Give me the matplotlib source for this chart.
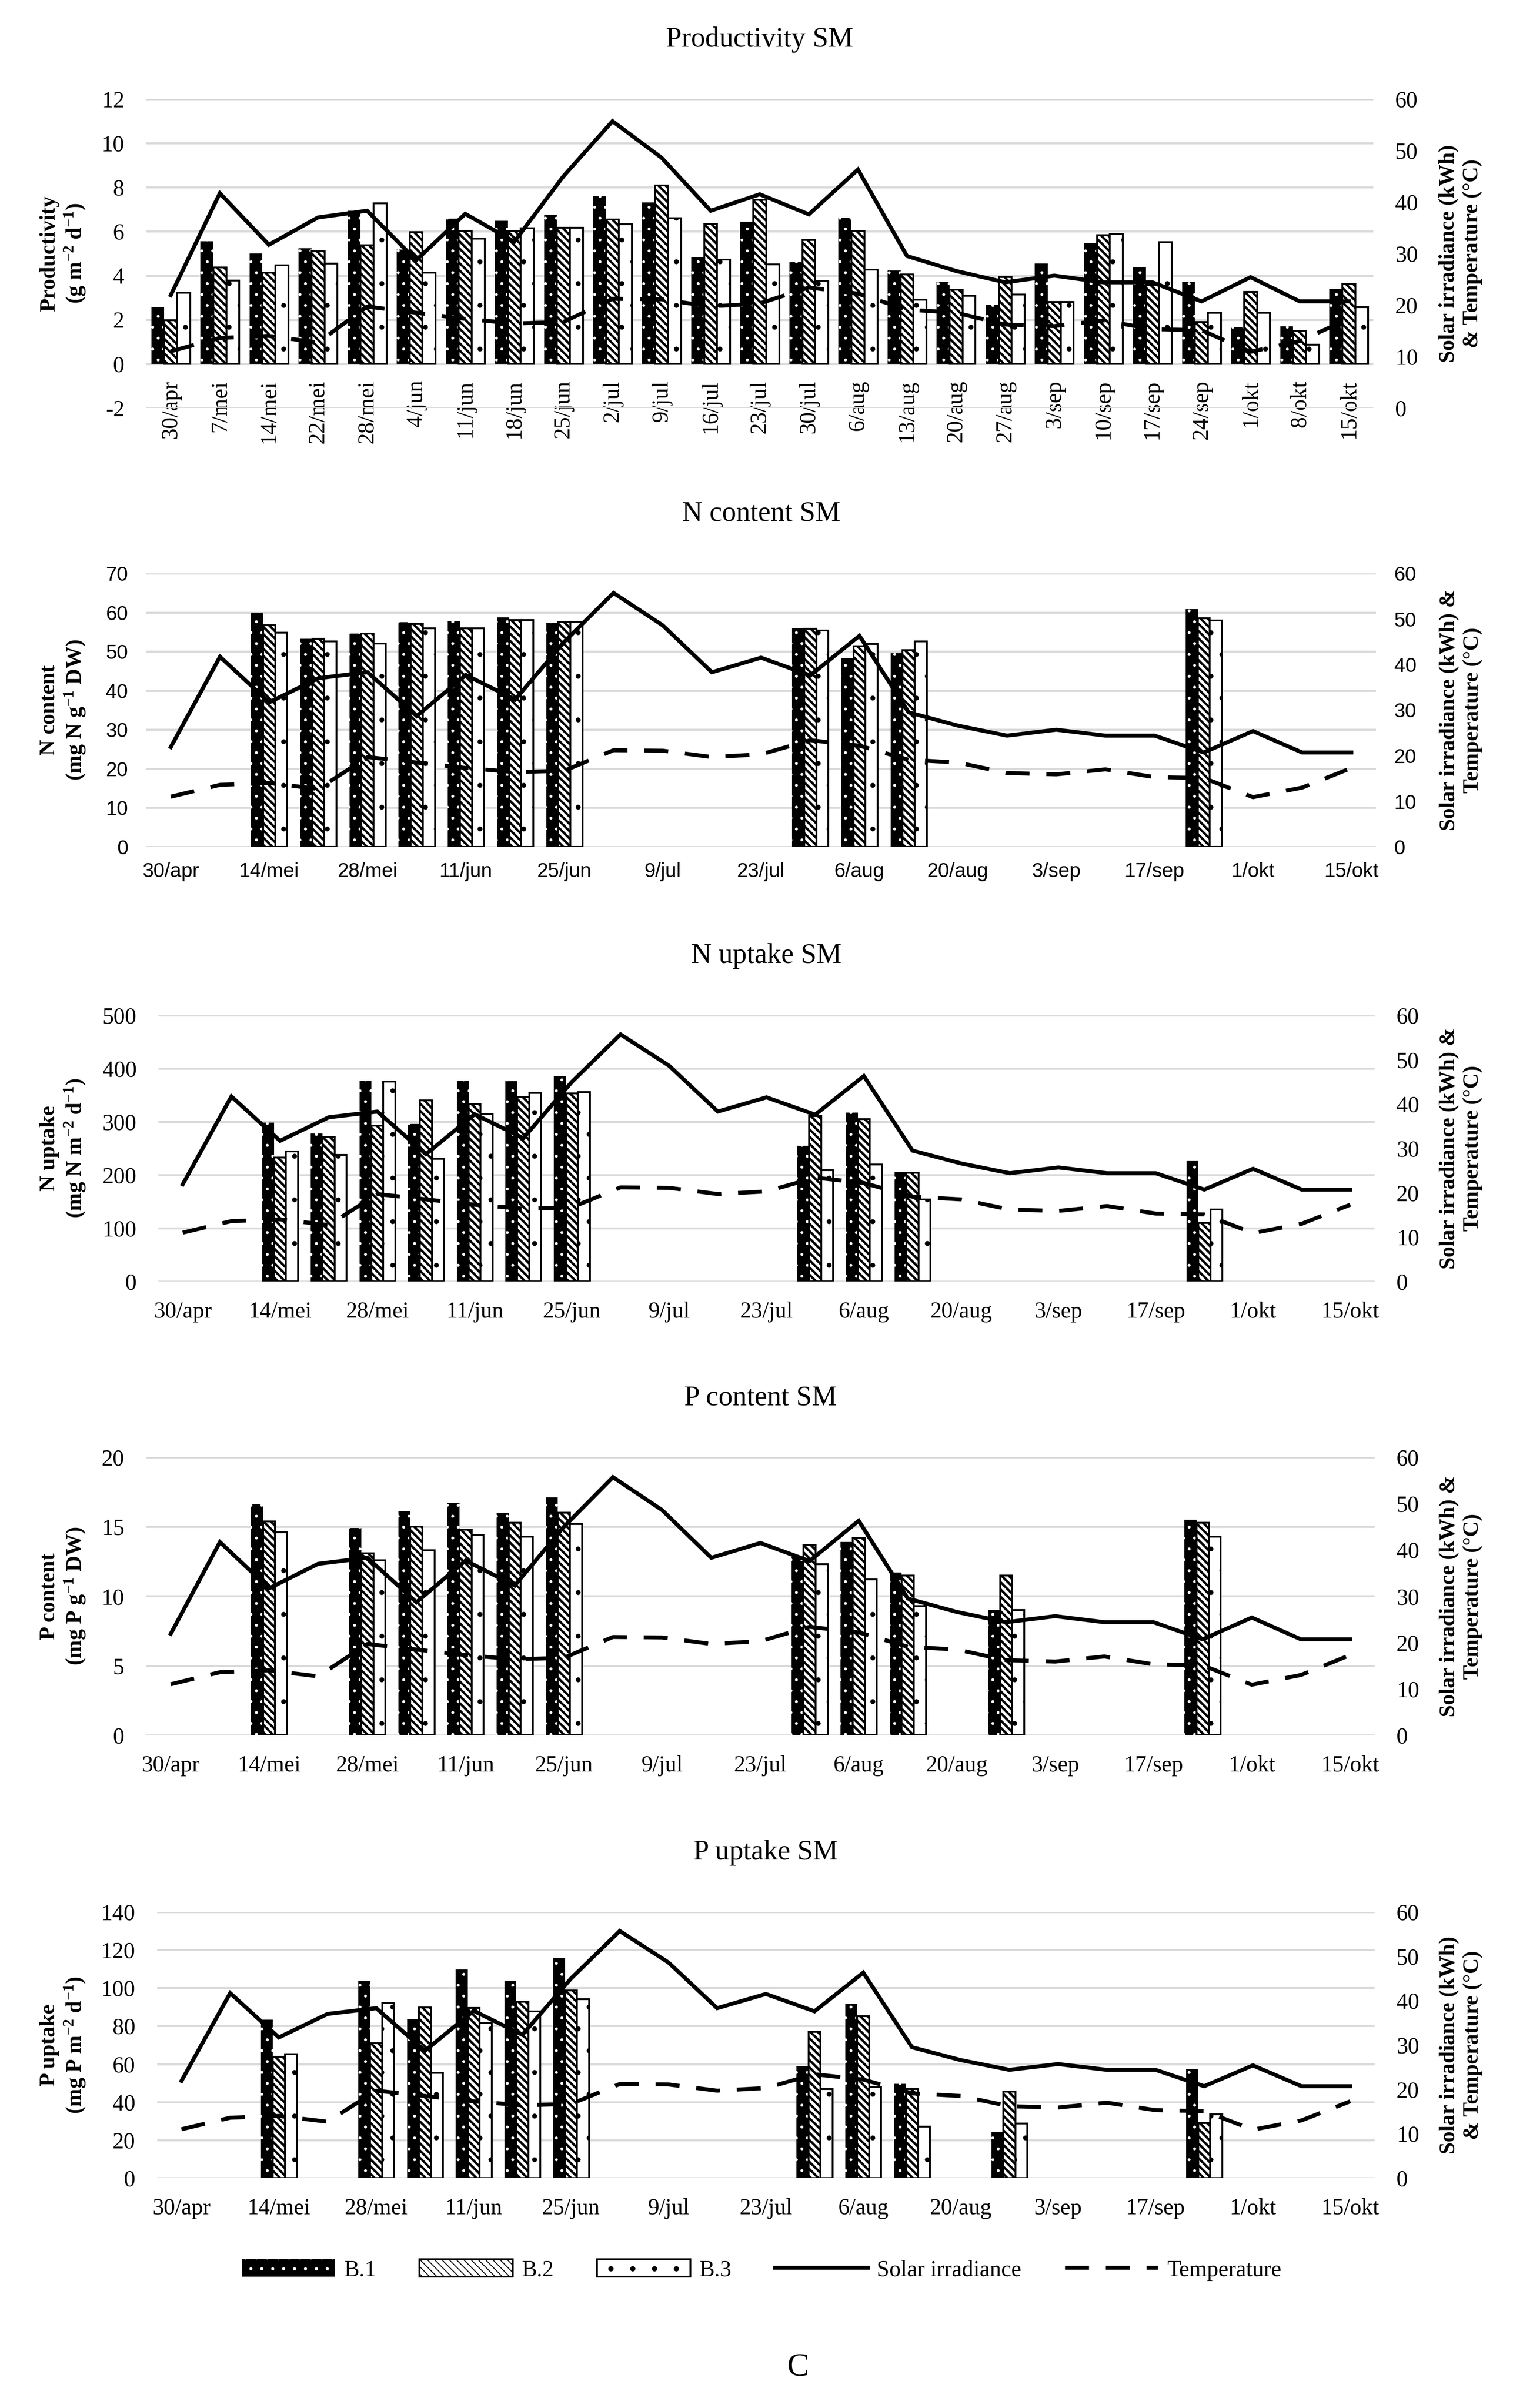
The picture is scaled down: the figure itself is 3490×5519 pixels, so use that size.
import numpy as np
import matplotlib.pyplot as plt
from matplotlib.patches import Patch
from matplotlib.lines import Line2D

# --- DATA ---
# weekly sampling dates, days after 30/apr
week_days = [0, 7, 14, 21, 28, 35, 42, 49, 56, 63, 70, 77, 84, 91, 98, 105,
             112, 119, 126, 133, 140, 147, 154, 161, 168]
week_labels = ['30/apr', '7/mei', '14/mei', '22/mei', '28/mei', '4/jun', '11/jun',
               '18/jun', '25/jun', '2/jul', '9/jul', '16/jul', '23/jul', '30/jul',
               '6/aug', '13/aug', '20/aug', '27/aug', '3/sep', '10/sep', '17/sep',
               '24/sep', '1/okt', '8/okt', '15/okt']
solar = [21.9, 41.7, 31.7, 37.0, 38.3, 28.7, 37.7, 32.3, 45.0, 55.7, 48.6, 38.3, 41.5,
         37.6, 46.3, 29.5, 26.6, 24.4, 25.7, 24.4, 24.4, 20.7, 25.4, 20.7, 20.7]
temperature = [11.0, 13.6, 14.0, 12.7, 19.7, 18.5, 17.3, 16.4, 16.7, 21.2, 21.1, 19.7,
               20.3, 23.4, 22.2, 19.1, 18.5, 16.2, 15.9, 17.0, 15.3, 15.1, 10.9, 13.0, 17.3]

# Productivity (g m-2 d-1), every week
prod_b1 = [2.56, 5.56, 5.0, 5.24, 6.94, 5.17, 6.58, 6.49, 6.76, 7.6, 7.31, 4.82, 6.44,
           4.6, 6.63, 4.22, 3.71, 2.67, 4.54, 5.47, 4.36, 3.71, 1.65, 1.69, 3.39]
prod_b2 = [1.97, 4.36, 4.13, 5.1, 5.38, 5.97, 6.03, 6.0, 6.17, 6.54, 8.08, 6.35, 7.43,
           5.61, 6.0, 4.06, 3.36, 3.94, 2.8, 5.83, 3.57, 1.9, 3.26, 1.49, 3.61]
prod_b3 = [3.22, 3.78, 4.46, 4.54, 7.28, 4.13, 5.68, 6.14, 6.17, 6.32, 6.6, 4.72, 4.51,
           3.76, 4.26, 2.9, 3.08, 3.15, 2.8, 5.89, 5.51, 2.32, 2.32, 0.86, 2.56]

# N content (mg N g-1 DW)
nc_days = [14, 21, 28, 35, 42, 49, 56, 91, 98, 105, 147]
nc_b1 = [59.9, 53.3, 54.6, 57.5, 57.7, 58.7, 57.3, 55.9, 48.3, 49.6, 60.9]
nc_b2 = [56.7, 53.3, 54.6, 57.1, 55.9, 58.0, 57.5, 55.8, 51.3, 50.4, 58.5]
nc_b3 = [54.8, 52.6, 52.0, 55.9, 55.9, 58.1, 57.6, 55.4, 51.9, 52.6, 57.9]

# N uptake (mg N m-2 d-1)
nu_days = [14, 21, 28, 35, 42, 49, 56, 91, 98, 105, 147]
nu_b1 = [298, 278, 377, 296, 377, 376, 386, 255, 317, 206, 226]
nu_b2 = [233, 271, 293, 340, 334, 347, 353, 311, 305, 204, 110]
nu_b3 = [244, 238, 375, 230, 315, 354, 356, 209, 220, 154, 135]

# P content (mg P g-1 DW)
pc_days = [14, 28, 35, 42, 49, 56, 91, 98, 105, 119, 147]
pc_b1 = [16.6, 14.9, 16.1, 16.7, 16.0, 17.1, 12.8, 13.9, 11.7, 9.0, 15.5]
pc_b2 = [15.4, 13.1, 15.0, 14.8, 15.3, 16.0, 13.7, 14.2, 11.5, 11.5, 15.3]
pc_b3 = [14.6, 12.6, 13.3, 14.4, 14.3, 15.2, 12.3, 11.2, 9.3, 9.0, 14.3]

# P uptake (mg P m-2 d-1)
pu_days = [14, 28, 35, 42, 49, 56, 91, 98, 105, 119, 147]
pu_b1 = [83.2, 103.7, 83.6, 109.8, 103.7, 115.7, 59.0, 91.5, 49.5, 24.2, 57.3]
pu_b2 = [63.8, 71.0, 89.8, 89.5, 92.7, 98.8, 76.9, 85.1, 46.9, 45.5, 29.0]
pu_b3 = [65.2, 92.0, 55.4, 81.6, 87.6, 94.2, 46.9, 48.0, 27.1, 28.6, 33.4]

# --- STYLE ---
W, H, DPI = 3490, 5519, 300
SERIF = 'Liberation Serif'
SANS = 'Liberation Sans'
LINE_W = 2.2
DASH = (0, (6.0, 4.2))
HATCH_B1, HATCH_B2, HATCH_B3 = '..', '\\\\\\\\\\\\', '.'

plt.rcParams['hatch.linewidth'] = 0.5
plt.rcParams['axes.unicode_minus'] = False

fig = plt.figure(figsize=(W / DPI, H / DPI), dpi=DPI)


def add_axes(l, t, r, b):
    return fig.add_axes([l / W, 1 - b / H, (r - l) / W, (b - t) / H])


def hatch_lw(patches, lw):
    for p in patches:
        if hasattr(p, 'set_hatch_linewidth'):
            p.set_hatch_linewidth(lw)


def draw_bars(ax, x, b1, b2, b3, w):
    x = np.asarray(x, dtype=float)
    c1 = ax.bar(x - w, b1, w, color='black', edgecolor='white', hatch=HATCH_B1, linewidth=0, zorder=2)
    c2 = ax.bar(x, b2, w, color='white', edgecolor='black', hatch=HATCH_B2, linewidth=1.0, zorder=2)
    c3 = ax.bar(x + w, b3, w, color='white', edgecolor='black', hatch=HATCH_B3, linewidth=1.0, zorder=2)
    hatch_lw(c1, 0.4)
    hatch_lw(c2, 1.3)
    hatch_lw(c3, 0.3)


def draw_lines(ax2, x):
    ax2.plot(x, solar, color='black', lw=LINE_W, solid_joinstyle='miter', zorder=3)
    ax2.plot(x, temperature, color='black', lw=LINE_W, linestyle=DASH, zorder=3)
    ax2.set_ylim(0, 60)
    ax2.set_yticks(np.arange(0, 61, 10))


def style(ax, ax2, title, ylabel, rlabel, tick_font, tick_size, lx, rx, xpad, ypad):
    for a in (ax, ax2):
        for s in a.spines.values():
            s.set_visible(False)
        a.tick_params(axis='both', length=0, labelsize=tick_size, labelfontfamily=tick_font)
    ax.tick_params(axis='x', pad=xpad)
    ax.tick_params(axis='y', pad=ypad)
    ax2.tick_params(axis='y', pad=ypad)
    ax.set_axisbelow(True)
    ax.yaxis.grid(True, color='#d9d9d9', linewidth=1.1)
    ax.set_title(title, fontfamily=SERIF, fontsize=15.5, pad=28.8)
    ax.set_ylabel(ylabel, fontfamily=SERIF, fontsize=12, fontweight='bold', va='center')
    ax.yaxis.set_label_coords(lx, 0.5)
    ax2.set_ylabel(rlabel, fontfamily=SERIF, fontsize=12, fontweight='bold', va='center', rotation=90)
    ax2.yaxis.set_label_coords(rx, 0.5)


RL_A = 'Solar irradiance (kWh)\n& Temperature (\u00b0C)'
RL_B = 'Solar irradiance (kWh) &\nTemperature (\u00b0C)'

date_ticks = week_days[::2]
date_tick_labels = week_labels[::2]
DAY_W = 1.72

# ---- Panel 1: productivity, category axis ----
ax = add_axes(335, 227, 3147, 935)
ax2 = ax.twinx()
cat = np.arange(len(week_labels))
draw_bars(ax, cat, prod_b1, prod_b2, prod_b3, 0.264)
draw_lines(ax2, cat)
ax.set_xlim(-0.5, len(cat) - 0.5)
ax.set_ylim(-2, 12)
ax.set_yticks(np.arange(-2, 13, 2))
ax.set_xticks(cat)
ax.set_xticklabels(week_labels)
ax.spines['bottom'].set_position(('data', 0))
style(ax, ax2, 'Productivity SM', 'Productivity\n(g m$\\mathregular{^{-2}}$ d$\\mathregular{^{-1}}$)', RL_A,
      SERIF, 12.5, -190 / 2812, 1 + 200 / 2812, 9, 12)
ax.tick_params(axis='x', labelrotation=90)

# ---- Panels 2-5: date axis ----
panels = [
    ((335, 1314, 3153, 1941), 'N content SM', 'N content\n(mg N g$\\mathregular{^{-1}}$ DW)', RL_B,
     nc_days, nc_b1, nc_b2, nc_b3, (0, 70), 10, SANS, 11, 8.5, 10),
    ((363, 2327, 3150, 2937), 'N uptake SM', 'N uptake\n(mg N m$\\mathregular{^{-2}}$ d$\\mathregular{^{-1}}$)', RL_B,
     nu_days, nu_b1, nu_b2, nu_b3, (0, 500), 100, SERIF, 12.5, 11, 12),
    ((335, 3340, 3150, 3977), 'P content SM', 'P content\n(mg P g$\\mathregular{^{-1}}$ DW)', RL_B,
     pc_days, pc_b1, pc_b2, pc_b3, (0, 20), 5, SERIF, 12.5, 11, 12),
    ((360, 4382, 3150, 4992), 'P uptake SM', 'P uptake\n(mg P m$\\mathregular{^{-2}}$ d$\\mathregular{^{-1}}$)', RL_A,
     pu_days, pu_b1, pu_b2, pu_b3, (0, 140), 20, SERIF, 12.5, 11, 12),
]

for rect, title, ylabel, rlabel, days, b1, b2, b3, ylim, step, font, fsize, xpad, ypad in panels:
    ax = add_axes(*rect)
    ax2 = ax.twinx()
    draw_bars(ax, days, b1, b2, b3, DAY_W)
    draw_lines(ax2, week_days)
    ax.set_xlim(-3.5, 171.5)
    ax.set_ylim(*ylim)
    ax.set_yticks(np.arange(ylim[0], ylim[1] + step / 2, step))
    ax.set_xticks(date_ticks)
    ax.set_xticklabels(date_tick_labels)
    width = rect[2] - rect[0]
    style(ax, ax2, title, ylabel, rlabel, font, fsize, (145 - rect[0]) / width,
          (3348 - rect[0]) / width, xpad, ypad)

# ---- legend and panel letter ----
handles = [
    Patch(facecolor='black', edgecolor='white', hatch=HATCH_B1, linewidth=0),
    Patch(facecolor='white', edgecolor='black', hatch=HATCH_B2, linewidth=1.0),
    Patch(facecolor='white', edgecolor='black', hatch=HATCH_B3, linewidth=1.0),
    Line2D([], [], color='black', lw=LINE_W),
    Line2D([], [], color='black', lw=LINE_W, linestyle=DASH),
]
hatch_lw(handles[1:2], 1.3)
labels = ['B.1', 'B.2', 'B.3', 'Solar irradiance', 'Temperature']
fig.legend(handles, labels, loc='center', bbox_to_anchor=(0.5, 1 - 5203 / H), ncol=5,
           frameon=False, prop={'family': SERIF, 'size': 12.5}, handlelength=4.1,
           handleheight=0.8, handletextpad=0.4, columnspacing=1.9)

fig.text(1829 / W, 1 - 5428 / H, 'C', fontfamily=SERIF, fontsize=18, ha='center', va='center')

fig.savefig('out.png', dpi=DPI)
